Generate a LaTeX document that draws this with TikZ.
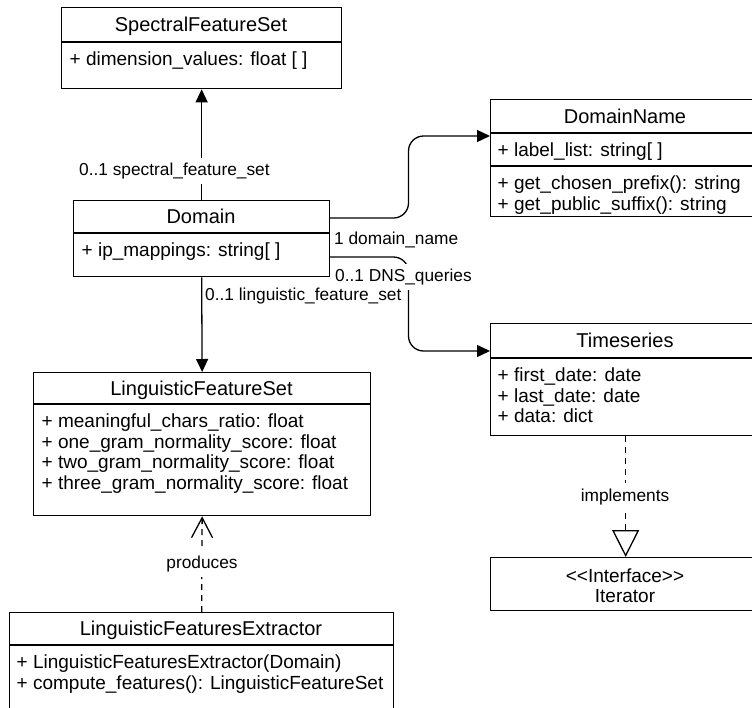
\documentclass[tikz,border=0pt]{standalone}
\usepackage{fontspec}
\setmainfont{Liberation Sans}
\usetikzlibrary{arrows.meta}
% class text, class titles, connector labels
\newcommand{\attrfont}{\fontsize{19}{20.5}\selectfont}
\newcommand{\titlefont}{\fontsize{20}{21}\selectfont}
\newcommand{\lblfont}{\fontsize{17.3}{20}\selectfont}
\newcommand{\firstln}{\rule{0pt}{14.5pt}}
\tikzset{
  classbox/.style={draw, line width=1.3pt, fill=white, anchor=north west, inner sep=0pt},
  divider/.style={line width=1.3pt},
  ttl/.style={font=\titlefont, inner sep=0pt, anchor=base},
  attr/.style={font=\attrfont, align=left, anchor=north west, inner sep=0pt},
  lbl/.style={font=\lblfont, fill=white, inner xsep=2pt, inner ysep=5pt, anchor=base west},
  assoc/.style={line width=1.3pt, -{Triangle[length=13pt,width=12pt]}},
  produces/.style={line width=1.3pt, dash pattern=on 6pt off 5pt, -{Straight Barb[length=20pt,width=21pt]}},
  realizes/.style={line width=1.3pt, dash pattern=on 6pt off 5pt, -{Triangle[open,length=27pt,width=27pt,fill=white]}},
}
\begin{document}
\begin{tikzpicture}[x=1pt,y=-1pt]
\useasboundingbox (0,0) rectangle (752,707);
\clip (0,0) rectangle (752,707);
\fill[white] (0,0) rectangle (752,707);

% SpectralFeatureSet
\node[classbox, minimum width=280pt, minimum height=81pt] (sfs) at (61,7) {};
\draw[divider] (61,42) -- (341,42);
\node[ttl] (sfs-t) at (201,31) {SpectralFeatureSet};
\node[attr] (sfs-a) at (69.5,51) {\firstln+ dimension\_values: float [ ]};

% Domain
\node[classbox, minimum width=256pt, minimum height=76pt] (domain) at (73,200) {};
\draw[divider] (73,233) -- (329,233);
\node[ttl] (domain-t) at (201,223) {Domain};
\node[attr] (domain-a) at (81.5,242) {\firstln+ ip\_mappings: string[ ]};

% DomainName (continues past the right edge)
\node[classbox, minimum width=270pt, minimum height=117pt] (dname) at (490,99) {};
\draw[divider] (490,133) -- (760,133);
\draw[divider] (490,166) -- (760,166);
\node[ttl] (dname-t) at (625,123) {DomainName};
\node[attr] (dname-a) at (497.5,142) {\firstln+ label\_list: string[ ]};
\node[attr] (dname-m) at (497.5,175) {\firstln+ get\_chosen\_prefix(): string\\+ get\_public\_suffix(): string};

% Timeseries (continues past the right edge)
\node[classbox, minimum width=270pt, minimum height=112pt] (ts) at (490,323) {};
\draw[divider] (490,358) -- (760,358);
\node[ttl] (ts-t) at (625,347) {Timeseries};
\node[attr] (ts-a) at (497.5,367) {\firstln+ first\_date: date\\+ last\_date: date\\+ data: dict};

% Iterator interface
\node[classbox, minimum width=270pt, minimum height=53pt] (iter) at (490,557) {};
\node[attr, align=center, anchor=north] (iter-t) at (625,567.5) {\firstln{<}{<}Interface{>}{>}\\Iterator};

% LinguisticFeatureSet
\node[classbox, minimum width=337pt, minimum height=143pt] (lfs) at (33,372) {};
\draw[divider] (33,404) -- (370,404);
\node[ttl] (lfs-t) at (201.5,395) {LinguisticFeatureSet};
\node[attr] (lfs-a) at (41.5,413) {\firstln+ meaningful\_chars\_ratio: float\\+ one\_gram\_normality\_score: float\\+ two\_gram\_normality\_score: float\\+ three\_gram\_normality\_score: float};

% LinguisticFeaturesExtractor (continues past the bottom edge)
\node[classbox, minimum width=384pt, minimum height=110pt] (lfe) at (9,612) {};
\draw[divider] (9,645) -- (393,645);
\node[ttl] (lfe-t) at (201,635) {LinguisticFeaturesExtractor};
\node[attr] (lfe-a) at (16.5,654) {\firstln+ LinguisticFeaturesExtractor(Domain)\\+ compute\_features(): LinguisticFeatureSet};

% Associations
\coordinate (d1) at (329,218);
\coordinate (d2) at (329,257);
\coordinate (dn-in) at (490,136);
\coordinate (ts-in) at (490,351);
\draw[assoc] (domain.north) -- (sfs.south);
\draw[assoc] (domain.south) -- (lfs.north);
\draw[assoc, rounded corners=15pt] (d1) -- (408.5,218) -- (408.5,136) -- (dn-in);
\draw[assoc, rounded corners=15pt] (d2) -- (408.5,257) -- (408.5,351) -- (ts-in);

\node[lbl] (l-sfs) at (77,175.5) {0..1 spectral\_feature\_set};
\node[lbl] (l-dn) at (332,244.5) {1 domain\_name};
\node[lbl] (l-dns) at (333,281.5) {0..1 DNS\_queries};
\node[lbl] (l-lfs) at (203,300.5) {0..1 linguistic\_feature\_set};

% Dependency and realization
\draw[produces] (lfe.north) -- (lfs.south);
\node[lbl, anchor=base] (l-prod) at (202,568) {produces};
\draw[realizes] (ts.south -| iter.north) -- (iter.north);
\node[lbl, anchor=base] (l-impl) at (625,501) {implements};
\end{tikzpicture}
\end{document}
